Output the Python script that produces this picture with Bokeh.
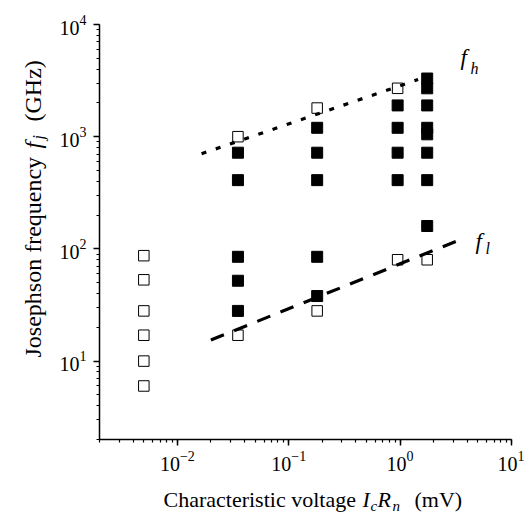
import math
from bokeh.plotting import figure
from bokeh.models import Label
from bokeh.embed import file_html
from bokeh.resources import INLINE

# ---- data ----
open_x = [0.005, 0.005, 0.005, 0.005, 0.005, 0.005,
          0.035, 0.035,
          0.18, 0.18,
          0.95, 0.95,
          1.75]
open_y = [87, 53, 28, 17, 10, 6,
          1000, 17,
          1800, 28,
          2700, 80,
          80]
filled_x = [0.035, 0.035, 0.035, 0.035, 0.035,
            0.18, 0.18, 0.18, 0.18, 0.18,
            0.95, 0.95, 0.95, 0.95,
            1.75, 1.75, 1.75, 1.75, 1.75, 1.75, 1.75, 1.75]
filled_y = [720, 410, 85, 52, 28,
            1200, 720, 410, 85, 38,
            1900, 1200, 720, 410,
            3300, 2700, 1900, 1200, 1050, 720, 410, 160]
fh_x = [0.0165, 1.45]
fh_y = [705, 3230]
fl_x = [0.02, 3.26]
fl_y = [15.4, 118]

x_bounds = (0.002, 10)
y_bounds = (2, 10000)

FONT = "Liberation Serif, DejaVu Serif, serif"

W, H = 524, 512
# axis box inside the canvas (pixels)
left, right, top, bottom = 99, 13, 24, 73
lx0, lx1 = math.log10(x_bounds[0]), math.log10(x_bounds[1])
ly0, ly1 = math.log10(y_bounds[0]), math.log10(y_bounds[1])
ppx = (W - left - right) / (lx1 - lx0)
ppy = (H - top - bottom) / (ly1 - ly0)
x_range = (10 ** (lx0 - left / ppx), 10 ** (lx1 + right / ppx))
y_range = (10 ** (ly0 - bottom / ppy), 10 ** (ly1 + top / ppy))

p = figure(width=W, height=H, x_axis_type="log", y_axis_type="log",
           x_range=x_range, y_range=y_range,
           output_backend="svg", toolbar_location=None,
           min_border_left=0, min_border_right=0,
           min_border_top=0, min_border_bottom=0)
p.outline_line_color = None
p.xgrid.visible = False
p.ygrid.visible = False
p.background_fill_color = "white"
p.border_fill_color = "white"

p.xaxis[0].fixed_location = y_bounds[0]
p.yaxis[0].fixed_location = x_bounds[0]
p.xaxis[0].bounds = x_bounds
p.yaxis[0].bounds = y_bounds

for ax in (p.xaxis[0], p.yaxis[0]):
    ax.axis_line_width = 1.5
    ax.axis_line_color = "black"
    ax.major_tick_line_width = 1.5
    ax.minor_tick_line_width = 1.2
    ax.major_tick_line_color = "black"
    ax.minor_tick_line_color = "black"
    ax.major_tick_out = 6
    ax.major_tick_in = 0
    ax.minor_tick_out = 3
    ax.minor_tick_in = 0
    ax.major_label_text_font = FONT
    ax.major_label_text_font_size = "20px"
    ax.major_label_text_color = "black"
p.xaxis[0].major_label_standoff = 5
p.yaxis[0].major_label_standoff = 7

# markers
p.scatter(filled_x, filled_y, marker="square", size=11,
          fill_color="black", line_color="black", line_width=1)
p.scatter(open_x, open_y, marker="square", size=10.5,
          fill_color="white", line_color="black", line_width=1)

# fit lines (drawn on top)
p.line(fh_x, fh_y, line_color="black", line_width=3.2, line_dash="5 10")
p.line(fl_x, fl_y, line_color="black", line_width=3.2, line_dash="14 11")

def lab(text, x, y, size, style="normal", angle=0.0):
    p.add_layout(Label(x=x, y=y, x_units="screen", y_units="screen",
                       text=text, text_font=FONT, text_font_size=size,
                       text_font_style=style, text_color="black",
                       text_baseline="alphabetic", text_align="left",
                       angle=angle))

# curve labels
lab("f", 460, 455, "23px", "italic")
lab("h", 470, 444, "16px", "italic")
lab("f", 475, 271, "23px", "italic")
lab("l", 485, 264, "16px", "italic")

# x-axis title
lab("Characteristic voltage", 163, 13, "22px")
lab("I", 362, 13, "22px", "italic")
lab("c", 370, 7, "15px", "italic")
lab("R", 377, 13, "22px", "italic")
lab("n", 392, 7, "15px", "italic")
lab("(mV)", 414, 13, "22px")

# y-axis title (rotated)
A = math.pi / 2
lab("Josephson frequency", 32, 155, "24px", angle=A)
lab("f", 32, 364, "24px", "italic", angle=A)
lab("j", 38, 373, "16px", "italic", angle=A)
lab("(GHz)", 32, 391, "24px", angle=A)

open("out.html", "w").write(file_html(p, INLINE))
